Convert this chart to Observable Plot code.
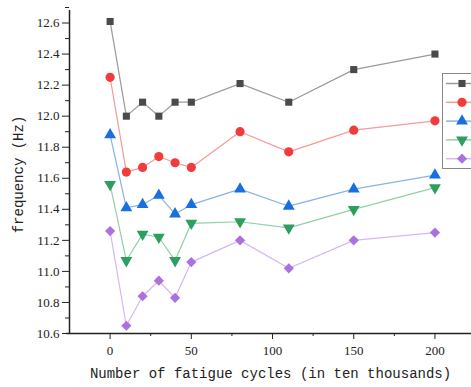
<!DOCTYPE html>
<html><head><meta charset="utf-8">
<script src="https://cdn.jsdelivr.net/npm/d3@7"></script>
<script src="https://cdn.jsdelivr.net/npm/@observablehq/plot@0.6"></script>
<style>body{margin:0;background:#fff}#c{position:relative;width:471px;height:387px;overflow:hidden}</style>
</head><body><div id="c"></div>
<script>
const cycles = [0, 10, 20, 30, 40, 50, 80, 110, 150, 200];
const s1 = [12.61, 12.00, 12.09, 12.00, 12.09, 12.09, 12.21, 12.09, 12.30, 12.40];
const s2 = [12.25, 11.64, 11.67, 11.74, 11.70, 11.67, 11.90, 11.77, 11.91, 11.97];
const s3 = [11.88, 11.41, 11.43, 11.49, 11.37, 11.43, 11.53, 11.42, 11.53, 11.62];
const s4 = [11.56, 11.07, 11.24, 11.22, 11.07, 11.31, 11.32, 11.28, 11.40, 11.54];
const s5 = [11.26, 10.65, 10.84, 10.94, 10.83, 11.06, 11.20, 11.02, 11.20, 11.25];
const xTicks = [0, 50, 100, 150, 200];
const yTicks = [10.6, 10.8, 11.0, 11.2, 11.4, 11.6, 11.8, 12.0, 12.2, 12.4, 12.6];
const xLabel = "Number of fatigue cycles (in ten thousands)";
const yLabel = "frequency (Hz)";

const series = [
  {name: "S1", values: s1, symbol: "square", rotate: 0, r: 4, fill: "#4a4a4a", line: "#9a9a9a"},
  {name: "S2", values: s2, symbol: "circle", rotate: 0, r: 4.6, fill: "#f03c3c", line: "#f59a9a"},
  {name: "S3", values: s3, symbol: "triangle", rotate: 0, r: 4.4, fill: "#1a6fdf", line: "#86b2ec"},
  {name: "S4", values: s4, symbol: "triangle", rotate: 180, r: 4.4, fill: "#2c9e5e", line: "#8fd0aa"},
  {name: "S5", values: s5, symbol: "diamond2", rotate: 0, r: 4.6, fill: "#ab72df", line: "#d3b8f2"}
];
const rows = series.flatMap((s, i) => cycles.map((c, j) => ({series: s.name, idx: i, x: c, y: s.values[j]})));

const xMinor = d3.range(-25, 226, 25).filter(v => !xTicks.includes(v) && v > -25);
const yMinor = d3.range(10.7, 12.71, 0.2).map(v => +v.toFixed(1));
const mono = "'Liberation Mono', monospace";
const serif = "'Liberation Serif', serif";

const marks = [
  Plot.axisX({ticks: xTicks, tickSize: 6, tickPadding: 6, tickFormat: d => String(d), fontSize: 13, fontFamily: serif, label: null, stroke: "#222"}),
  Plot.axisX({ticks: xMinor, tickSize: 3, tickFormat: () => "", label: null, stroke: "#222"}),
  Plot.axisY({ticks: yTicks, tickSize: 7, tickPadding: 3, tickFormat: d => d.toFixed(1), fontSize: 13, fontFamily: serif, label: null, stroke: "#222"}),
  Plot.axisY({ticks: yMinor, tickSize: 4, tickFormat: () => "", label: null, stroke: "#222"}),
  Plot.ruleX([-25], {y1: 10.6, y2: 12.7, stroke: "#222", strokeWidth: 1.5, insetBottom: -3}),
  Plot.ruleY([10.6], {x1: -25, x2: 225, stroke: "#222", strokeWidth: 1.5, insetLeft: -3}),
];
series.forEach((s, i) => {
  const d = rows.filter(r => r.idx === i);
  marks.push(Plot.line(d, {x: "x", y: "y", stroke: s.line, strokeWidth: 1.2}));
  marks.push(Plot.dot(d, {x: "x", y: "y", symbol: () => s.symbol, fill: s.fill, stroke: "none", r: s.r, rotate: s.rotate}));
});
marks.push(Plot.text([xLabel], {frameAnchor: "bottom", dy: 44, fontSize: 14, fill: "#222", fontFamily: mono}));
marks.push(Plot.text([yLabel], {frameAnchor: "left", textAnchor: "middle", rotate: -90, dx: -51, dy: 4, fontSize: 14, fill: "#222", fontFamily: mono}));

const chart = Plot.plot({
  width: 471, height: 387,
  marginLeft: 69, marginRight: 0, marginTop: 7, marginBottom: 54,
  style: {fontFamily: mono, color: "#222", background: "#fff", overflow: "visible"},
  x: {domain: [-25, 222.5]},
  y: {domain: [10.6, 12.7]},
  symbol: {type: "identity"},
  marks
});
document.getElementById("c").appendChild(chart);

// legend box (partially cut off at right edge, as in the reference)
const svg = d3.select(chart);
const lg = svg.append("g");
lg.append("rect").attr("x", 442.5).attr("y", 73.5).attr("width", 40).attr("height", 95)
  .attr("fill", "#fff").attr("stroke", "#888").attr("stroke-width", 1);
series.forEach((s, i) => {
  const yy = 83.5 + i * 18.8;
  lg.append("line").attr("x1", 446).attr("x2", 471).attr("y1", yy).attr("y2", yy)
    .attr("stroke", s.line).attr("stroke-width", 1.5);
  const sym = {square: d3.symbolSquare, circle: d3.symbolCircle, triangle: d3.symbolTriangle, diamond2: d3.symbolDiamond2}[s.symbol];
  lg.append("path").attr("d", d3.symbol(sym, s.r * s.r * Math.PI)())
    .attr("transform", `translate(462,${yy}) rotate(${s.rotate})`).attr("fill", s.fill);
});
</script></body></html>
